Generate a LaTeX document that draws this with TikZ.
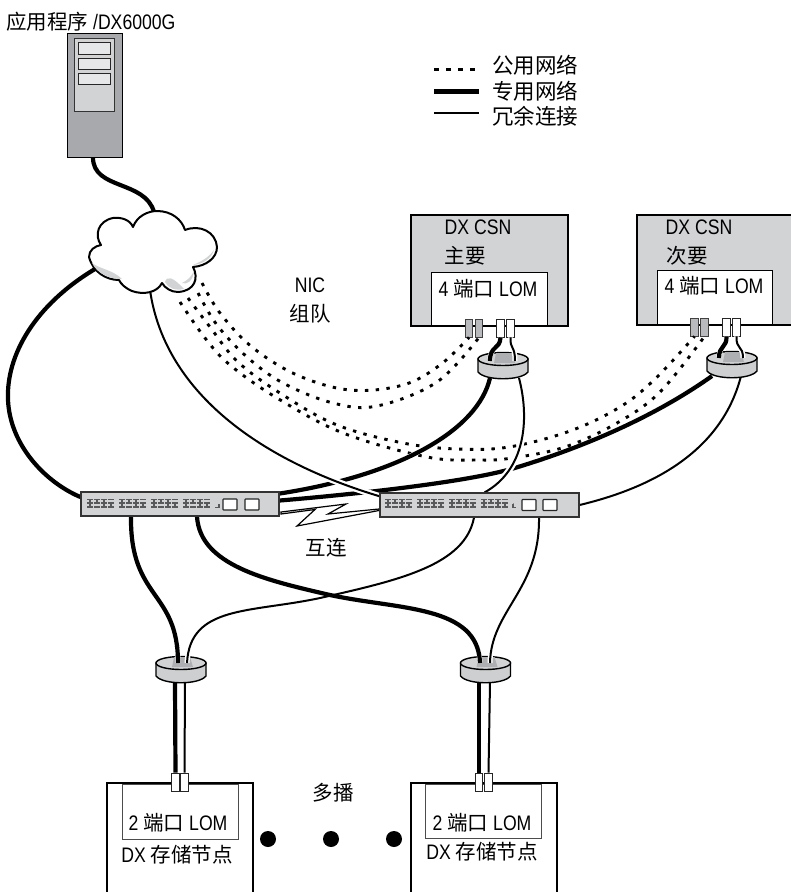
\documentclass[tikz,border=0pt]{standalone}
\usepackage{fontspec}
\setmainfont[FakeStretch=0.84]{Liberation Sans}
\newfontfamily\cjkf{Noto Sans CJK SC}
\newcommand\zh[1]{{\cjkf\fontsize{20.5}{20.5}\selectfont #1}}
\newcommand\zhb[1]{{\cjkf\fontsize{21.5}{21.5}\selectfont #1}}
\definecolor{lg}{HTML}{D1D3D4}
\definecolor{mg}{HTML}{A7A9AC}
\definecolor{vg}{HTML}{E6E7E8}
\definecolor{pad}{HTML}{58595B}
\tikzset{
  x=1pt,y=-1pt,
  lbl/.style={inner sep=0pt,font=\fontsize{21}{21}\selectfont,text=black},
  lblw/.style={lbl,anchor=west},
  boxg/.style={draw=black,line width=2pt,fill=lg,inner sep=0pt,rectangle},
  boxw/.style={draw=black,line width=.8pt,fill=white,inner sep=0pt,rectangle},
  boxs/.style={draw=black,line width=2pt,fill=white,inner sep=0pt,rectangle},
  swbox/.style={draw=black!80,line width=1.1pt,fill=lg,inner sep=0pt,rectangle},
  swbtn/.style={draw=black!85,line width=1.1pt,fill=white,rounded corners=.6pt,inner sep=0pt,rectangle,minimum width=14pt,minimum height=11pt},
  portg/.style={draw=black!75,line width=.8pt,fill=mg!80!white,inner sep=0pt,rectangle,minimum width=7.5pt,minimum height=18pt},
  portw/.style={draw=black!85,line width=.8pt,fill=white,inner sep=0pt,rectangle,minimum width=7.5pt,minimum height=18pt},
  thickc/.style={draw=black,line width=4.2pt},
  thinc/.style={draw=black,line width=2pt},
  halo/.style={draw=white,line width=6.5pt},
  halon/.style={draw=white,line width=5pt},
  dotc/.style={draw=black,line width=2.9pt,dash pattern=on 3.4pt off 7.4pt},
  sm/.style={smooth,tension=.6},
}
\newcommand\swgroup[1]{%
  \begin{scope}[shift={(#1,0)}]
  \foreach \i in {0,7,14,21}{
    \draw[pad,line width=1.1pt] (\i,499.5)--++(5.5,0) (\i,503)--++(5.5,0) (\i,507)--++(5.5,0);
  }
  \draw[pad,line width=1.1pt] (3,499.5)--(3,507) (10,499.5)--(10,503) (17,499.5)--(17,507) (24,503)--(24,507);
  \end{scope}}
\newcommand\splitter[2]{%
  \begin{scope}[shift={(#1,#2)}]
  \draw[black,line width=1.4pt,fill=lg!90!mg] (-25,0)--(-25,13) .. controls (-18,22) and (18,22) .. (25,13)--(25,0)--cycle;
  \draw[black,line width=1.4pt,fill=lg] (0,0) ellipse [x radius=25pt,y radius=6.5pt];
  \fill[mg!85!lg] (-7,-6)--(9,-6)--(12,4)--(-9,4)--cycle;
  \end{scope}}
\newcommand\leadin[4]{%
  \begin{scope}\clip (#1-32,#2-12) rectangle (#1+32,#2+6);
  \draw[halon] #4; \draw[#3] #4;
  \end{scope}}
\begin{document}
\begin{tikzpicture}
\clip (0,0) rectangle (791,892);
\fill[white] (0,0) rectangle (791,892);

\node[swbox,minimum width=198pt,minimum height=24pt] (sw1) at (180,504) {};
\node[swbox,minimum width=199pt,minimum height=24pt] (sw2) at (479.5,505) {};

\node[boxg,line width=1pt,fill=mg,minimum width=55pt,minimum height=124pt] (server) at (94.5,95) {};
\node[draw=black!80,line width=.8pt,fill=lg,inner sep=0pt,minimum width=40pt,minimum height=73pt] (panel) at (94.5,74.5) {};
\foreach \y/\n in {48.5/a,64/b,79/c}
  \node[draw=black!85,line width=.8pt,fill=vg,inner sep=0pt,minimum width=32pt,minimum height=11.5pt] (slot\n) at (94.5,\y) {};

\node[boxg,minimum width=157pt,minimum height=111pt] (csn1) at (489.5,270.5) {};
\node[boxw,minimum width=116pt,minimum height=54pt] (lom1) at (489,299) {};
\draw[black,line width=2pt] (lom1.south west)--(lom1.south east);
\node[boxg,minimum width=158pt,minimum height=110pt] (csn2) at (716,270) {};
\node[boxw,minimum width=115pt,minimum height=55pt] (lom2) at (714.5,297.5) {};
\draw[black,line width=2pt] (lom2.south west)--(lom2.south east);

\node[portg] (p1a) at (469,328) {};
\node[portg] (p1b) at (479,328) {};
\node[portw] (p1c) at (500.5,328) {};
\node[portw] (p1d) at (510.5,328) {};
\node[portg] (p2a) at (694.5,327) {};
\node[portg] (p2b) at (704.5,327) {};
\node[portw] (p2c) at (726.5,327) {};
\node[portw] (p2d) at (736.5,327) {};

\coordinate (cltop) at (154,212);
\coordinate (clleft) at (95,269);
\coordinate (clbot) at (150,290);
\coordinate (cld1) at (202,283);
\coordinate (cld2) at (198,293);
\coordinate (cld3) at (188,298);
\coordinate (cld4) at (180,302);
\coordinate (s1l) at (490,378);
\coordinate (s1r) at (519,378);
\coordinate (s2l) at (712,376);
\coordinate (s2r) at (741,376);
\coordinate (s3l) at (175,683);
\coordinate (s3r) at (185,683);
\coordinate (s4l) at (479,683);
\coordinate (s4r) at (490,683);

% dotted public network
\draw[dotc] plot[sm] coordinates {(cld1) (220,313) (252,347) (297,375) (350,390) (403,385) (440,365) (p1a.south)};
\draw[dotc] plot[sm] coordinates {(cld2) (217,325) (247,357) (283,383) (333,403) (377,406) (437,382) (p1b.south)};
\draw[dotc] plot[sm] coordinates {(cld3) (210,327) (238,362) (283,395) (337,425) (403,443) (457,449) (509,447) (570,431) (620,407) (655,379) (p2a.south)};
\draw[dotc] plot[sm] coordinates {(cld4) (205,338) (230,365) (277,398) (343,433) (427,457) (480,460) (512,458) (565,447) (617,423) (660,392) (p2b.south)};

% private network
\draw[thickc] (server.south -| 93,157) .. controls (93,190) and (145,180) .. (cltop);
\draw[thickc] (clleft) .. controls (35,305) and (6,355) .. (8,400) .. controls (10,445) and (45,482) .. (sw1.176);
\draw[thickc] (sw1.2) .. controls (370,493) and (470,481) .. (513,468.5) .. controls (575,450) and (650,420) .. (s2l);
\draw[halon] (s1l) .. controls (478,430) and (400,475) .. (sw1.6);
\draw[thickc] (s1l) .. controls (478,430) and (400,475) .. (sw1.6);
\def\patha{(sw1.south -| 131,516) .. controls (130,600) and (178,590) .. (178,663)}
\def\pathb{(sw1.south -| 197,516) .. controls (200,565) and (265,580) .. (330,595) .. controls (400,610) and (478,605) .. (480,663)}
\def\pathc{(sw2.south -| 474,517) .. controls (465,565) and (400,580) .. (320,598) .. controls (250,613) and (190,605) .. (187,663)}
\def\pathd{(sw2.south -| 539,517) .. controls (540,590) and (491,610) .. (490,663)}
\draw[thinc] \pathc;
\draw[thinc] \pathd;
\draw[thickc] \patha;
\draw[thickc] \pathb;

% redundant connections
\draw[halo] (clbot) .. controls (165,395) and (265,462) .. (sw2.175.4);
\draw[thinc] (clbot) .. controls (165,395) and (265,462) .. (sw2.175.4);
\draw[halo] (s1r) .. controls (530,420) and (525,470) .. (sw2.68.5);
\draw[thinc] (s1r) .. controls (530,420) and (525,470) .. (sw2.68.5);
\draw[thinc] (s2r) .. controls (722,450) and (655,487) .. (sw2.east);

% interconnect
\draw[black,line width=1.2pt,fill=white,line join=miter]
  (281,512)--(346,504)--(328,514)--(379,509)--(379,510.5)--(297,526)--(315,509.5)--(281,514)--cycle;

% switches on top
\node[swbox,minimum width=198pt,minimum height=24pt] at (sw1) {};
\node[swbox,minimum width=199pt,minimum height=24pt] at (sw2) {};
\foreach \x in {87,119,151,183} \swgroup{\x}
\foreach \x in {385,417,449,481} \swgroup{\x}
\draw[pad,line width=1.1pt] (215,507.5)--(219,507.5)--(219,503.5) (513,507.5)--(516,507.5) (513,503.5)--(513,507.5);
\node[swbtn] (b1) at (230,504.5) {};
\node[swbtn] (b2) at (252,504.5) {};
\node[swbtn] (b3) at (529,505) {};
\node[swbtn] (b4) at (550,505) {};

% cloud
\draw[black,line width=2pt,fill=white,line join=round] (89,257)
  .. controls (89,250) and (95,246) .. (101,245)
  .. controls (94,235) and (98,221) .. (113,218)
  .. controls (122,217) and (130,220) .. (133,227)
  .. controls (137,216) and (148,211) .. (157,211)
  .. controls (172,211) and (182,220) .. (185,230)
  .. controls (200,224) and (216,232) .. (217,247)
  .. controls (217,258) and (206,266) .. (193,267)
  .. controls (199,278) and (195,291) .. (178,292)
  .. controls (171,292) and (165,288) .. (162,283)
  .. controls (157,293) and (143,295) .. (132,291)
  .. controls (125,288) and (121,284) .. (119,280)
  .. controls (106,280) and (93,272) .. (89,257) -- cycle;
\fill[lg] (92,263) .. controls (100,269) and (113,270) .. (122,279) .. controls (108,279) and (97,273) .. (92,263) -- cycle;
\fill[lg] (165,282) .. controls (167,276) and (172,276) .. (184,289) .. controls (175,291) and (168,288) .. (165,282) -- cycle;
\fill[lg] (214,250) .. controls (208,258) and (202,261) .. (193,265) .. controls (203,264) and (211,259) .. (214,250) -- cycle;
\fill[lg] (194,271) .. controls (191,277) and (188,280) .. (182,283) .. controls (187,285) and (193,281) .. (194,271) -- cycle;

% splitters and leads
\splitter{503}{359}
\splitter{732}{358}
\splitter{181}{663}
\splitter{485.5}{663}

\draw[halon] (p1d.south) .. controls (510,350) and (515,345) .. (515,361);
\draw[thinc] (p1d.south) .. controls (510,350) and (515,345) .. (515,361);
\draw[halon] (p1c.south) .. controls (500,350) and (490,345) .. (490,361);
\draw[thickc] (p1c.south) .. controls (500,350) and (490,345) .. (490,361);
\draw[halon] (p2d.south) .. controls (736,350) and (743,345) .. (743,358);
\draw[thinc] (p2d.south) .. controls (736,350) and (743,345) .. (743,358);
\draw[halon] (p2c.south) .. controls (727,348) and (719,345) .. (719,358);
\draw[thickc] (p2c.south) .. controls (727,348) and (719,345) .. (719,358);

\leadin{181}{657}{thinc}{\pathc}
\leadin{181}{657}{thickc}{\patha}
\leadin{485.5}{657}{thinc}{\pathd}
\leadin{485.5}{657}{thickc}{\pathb}

% storage nodes
\node[boxs,minimum width=146pt,minimum height=140pt] (st1) at (180,853) {};
\node[draw=black!70,line width=.7pt,fill=white,inner sep=0pt,minimum width=116pt,minimum height=55pt] (lom3) at (180,812) {};
\node[boxs,minimum width=146pt,minimum height=140pt] (st2) at (484,853) {};
\node[draw=black!70,line width=.7pt,fill=white,inner sep=0pt,minimum width=116pt,minimum height=54pt] (lom4) at (483,811) {};
\node[portw] (p3a) at (175.5,782) {};
\node[portw] (p3b) at (184.5,782) {};
\node[portw] (p4a) at (479,782) {};
\node[portw] (p4b) at (488.5,782) {};
\draw[thickc] (s3l)--(p3a.north);
\draw[thinc] (s3r)--(p3b.north);
\draw[thickc] (s4l)--(p4a.north);
\draw[thinc] (s4r)--(p4b.north);

\foreach \x/\n in {268/a,331/b,394/c}
  \node[circle,fill=black,inner sep=0pt,minimum size=16pt] (dot\n) at (\x,839) {};

% legend
\coordinate (la1) at (434,69); \coordinate (la2) at (480,69);
\coordinate (lb1) at (434,91); \coordinate (lb2) at (479,91);
\coordinate (lc1) at (434,113); \coordinate (lc2) at (479,113);
\draw[black,line width=3pt,dash pattern=on 4.5pt off 7.5pt] (la1)--(la2);
\draw[black,line width=5pt] (lb1)--(lb2);
\draw[black,line width=2.2pt] (lc1)--(lc2);
\node[lblw] (tla) at (492,65) {\zhb{公用网络}};
\node[lblw] (tlb) at (492,91) {\zhb{专用网络}};
\node[lblw] (tlc) at (492,116) {\zhb{冗余连接}};

% labels
\node[lblw] (tapp) at (6,22) {\zh{应用程序} /DX6000G};
\node[lbl] (tnic) at (310,285) {NIC};
\node[lbl] (tteam) at (310,314) {\zh{组队}};
\node[lbl] (tc1) at (478,227) {DX CSN};
\node[lbl] (tc1b) at (465,256) {\zh{主要}};
\node[lbl] (tl1) at (488,289) {4 \zh{端口} LOM};
\node[lbl] (tc2) at (699,227) {DX CSN};
\node[lbl] (tc2b) at (687,256) {\zh{次要}};
\node[lbl] (tl2) at (714,286) {4 \zh{端口} LOM};
\node[lbl] (tic) at (326,548) {\zh{互连}};
\node[lbl] (tmc) at (333,793) {\zh{多播}};
\node[lbl] (tl3) at (178,823) {2 \zh{端口} LOM};
\node[lbl] (tl4) at (482,823) {2 \zh{端口} LOM};
\node[lbl] (ts1) at (177,855) {DX \zh{存储节点}};
\node[lbl] (ts2) at (482,852) {DX \zh{存储节点}};
\end{tikzpicture}
\end{document}
